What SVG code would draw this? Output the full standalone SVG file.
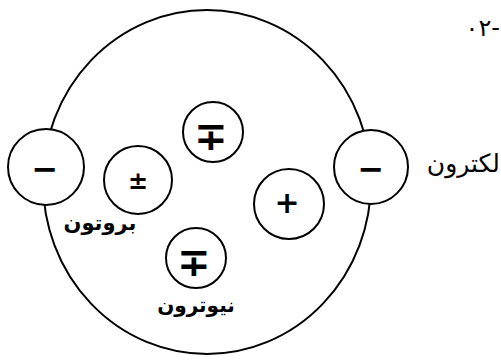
<svg xmlns="http://www.w3.org/2000/svg" width="501" height="360" viewBox="0 0 501 360">
<style>
.p{fill:#fff;stroke:#000;stroke-width:2}
.big{fill:none;stroke:#000;stroke-width:2}
.sym{font-family:"DejaVu Sans",sans-serif;font-weight:bold;text-anchor:middle;fill:#000}
.ar{font-family:"DejaVu Sans",sans-serif;fill:#000}
</style>
<rect width="501" height="360" fill="#fff"/>
<g id="atom"><ellipse class="big" cx="207" cy="182" rx="164" ry="172"/></g>
<g id="connectors"></g>
<g id="electron-left"><circle class="p" cx="46" cy="167" r="38"/><text class="sym" x="45" y="180" font-size="32">−</text></g>
<g id="electron-right"><circle class="p" cx="371" cy="167" r="37"/><text class="sym" x="371" y="180" font-size="32">−</text></g>
<g id="proton-pm"><circle class="p" cx="138" cy="180" r="34"/><text class="sym" x="138" y="189" font-size="24" font-weight="normal">±</text></g>
<g id="neutron-top"><circle class="p" cx="213" cy="132" r="30"/><text class="sym" x="211" y="150" font-size="40">∓</text></g>
<g id="proton-plus"><circle class="p" cx="289" cy="204" r="35"/><text class="sym" x="287" y="213" font-size="30">+</text></g>
<g id="neutron-bottom"><circle class="p" cx="196" cy="258" r="30"/><text class="sym" x="194" y="276" font-size="40">∓</text></g>
<g id="labels">
<text class="ar" x="500" y="172" font-size="25" text-anchor="end">لكترون</text>
<text class="ar" x="100" y="230" font-size="21" font-weight="bold" text-anchor="middle">بروتون</text>
<text class="ar" x="196" y="312" font-size="20" font-weight="bold" text-anchor="middle">نيوترون</text>
<text class="ar" x="500" y="36" font-size="24" text-anchor="end">٠٢-</text>
</g>
</svg>
